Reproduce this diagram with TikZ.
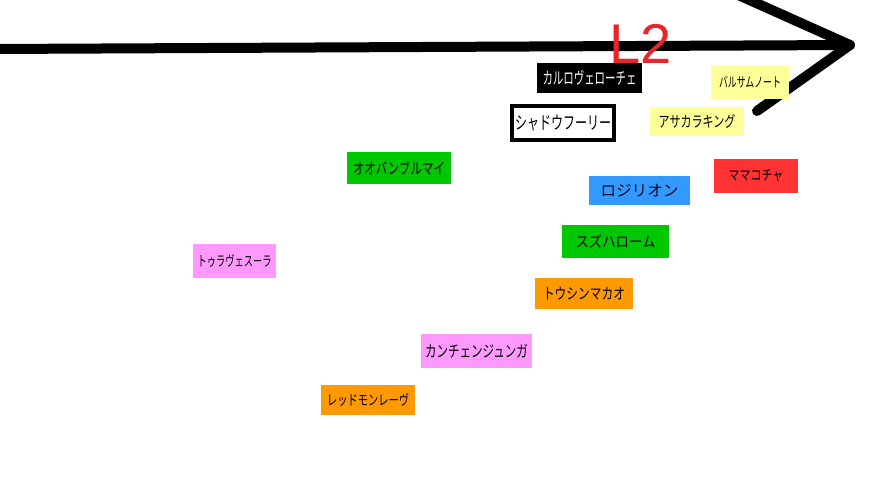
\documentclass[tikz,border=0pt]{standalone}
\usepackage{fontspec}
\usepackage{graphicx}
\setmainfont{Liberation Sans}
\newfontfamily\jp{Noto Sans CJK JP}
\newcommand\jt[3]{\resizebox*{#1pt}{#2pt}{\jp #3}}
\definecolor{yel}{HTML}{FFFF99}
\definecolor{rd}{HTML}{FF3333}
\definecolor{bl}{HTML}{3399FF}
\definecolor{gr}{HTML}{00C800}
\definecolor{pk}{HTML}{FF99FF}
\definecolor{og}{HTML}{FF9900}
\definecolor{lred}{HTML}{E8262A}
\begin{document}
\begin{tikzpicture}[x=1pt,y=-1pt,
  box/.style={rectangle, inner sep=0pt, anchor=center, text=black},
  arrowline/.style={line width=10pt, line cap=round, line join=round, black}]
\useasboundingbox (0,0) rectangle (870,490);
\fill[white] (0,0) rectangle (870,490);
% axis arrow
\coordinate (s) at (-6,49);
\coordinate (tip) at (850,45);
\coordinate (ua) at (736,-6);
\coordinate (la) at (757,111);
\draw[arrowline] (s) -- (tip);
\draw[arrowline] (ua) -- (tip) -- (la);
% label
\node[anchor=base west, inner sep=0pt, text=lred, font=\fontsize{56}{56}\selectfont] (l2) at (609,63) {L2};
% boxes
\node[box, fill=black, text=white, minimum width=105pt, minimum height=30pt] (karu) at (589.5,78) {\jt{94}{15}{カルロヴェローチェ}};
\node[box, fill=white, draw=black, line width=4pt, minimum width=102pt, minimum height=34pt] (shadow) at (563,123) {\jt{96}{16}{シャドウフーリー}};
\node[box, fill=yel, minimum width=78pt, minimum height=33pt] (baru) at (750,82.5) {\jt{62}{12}{バルサムノート}};
\node[box, fill=yel, minimum width=94pt, minimum height=29pt] (asaka) at (697,121.5) {\jt{77}{14}{アサカラキング}};
\node[box, fill=rd, minimum width=84pt, minimum height=34pt] (mama) at (756,176) {\jt{55}{12}{ママコチャ}};
\node[box, fill=bl, text={rgb,255:red,10;green,10;blue,40}, minimum width=101pt, minimum height=29pt] (roji) at (639.5,190.5) {\jt{78}{13}{ロジリオン}};
\node[box, fill=gr, minimum width=104pt, minimum height=32pt] (oo) at (399,168) {\jt{92}{14}{オオバンブルマイ}};
\node[box, fill=gr, minimum width=107pt, minimum height=33pt] (suzu) at (615.5,241.5) {\jt{80}{13.5}{スズハローム}};
\node[box, fill=pk, minimum width=83pt, minimum height=34pt] (tora) at (234.5,261) {\jt{74}{13}{トゥラヴェスーラ}};
\node[box, fill=og, minimum width=98pt, minimum height=31pt] (toushin) at (584,293.5) {\jt{82}{13}{トウシンマカオ}};
\node[box, fill=pk, minimum width=111pt, minimum height=34pt] (kan) at (476.5,351) {\jt{103}{14}{カンチェンジュンガ}};
\node[box, fill=og, minimum width=94pt, minimum height=30pt] (redmon) at (368,400) {\jt{82}{13}{レッドモンレーヴ}};
\end{tikzpicture}
\end{document}
